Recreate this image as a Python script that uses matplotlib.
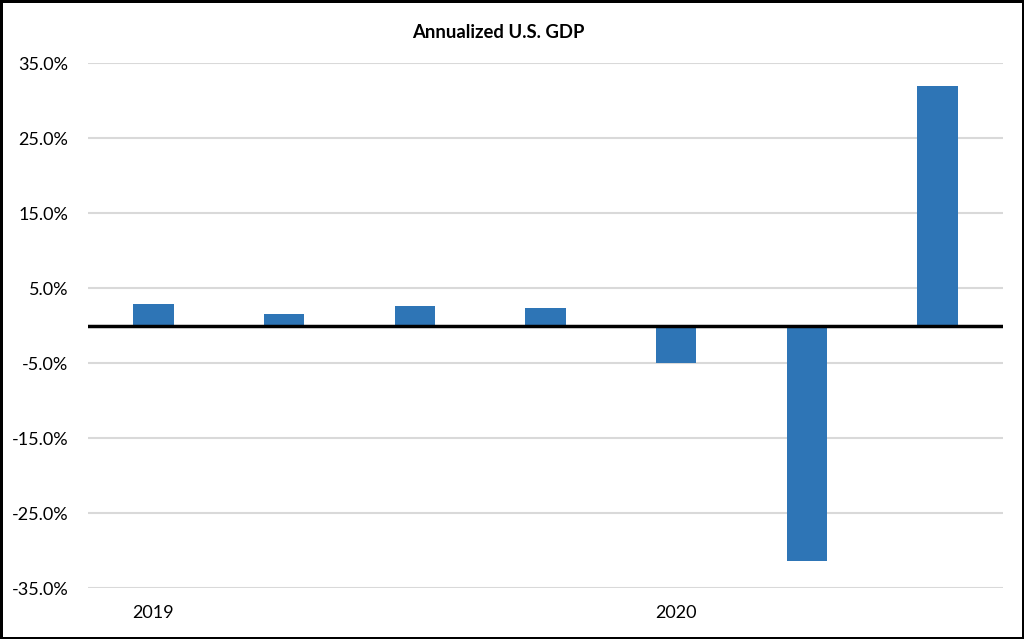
import numpy as np
import matplotlib.pyplot as plt

plt.rcParams['font.family'] = ['Lato', 'DejaVu Sans']

quarters = ['Q1 2019', 'Q2 2019', 'Q3 2019', 'Q4 2019', 'Q1 2020', 'Q2 2020', 'Q3 2020']
gdp = [2.9, 1.5, 2.6, 2.4, -5.0, -31.4, 32.0]
tick_labels = ['2019', '', '', '', '2020', '', '']
yticks = [-35, -25, -15, -5, 5, 15, 25, 35]

fig = plt.figure(figsize=(10.24, 6.39), dpi=100)
fig.patch.set_edgecolor('black')
fig.patch.set_linewidth(2.5)
ax = fig.add_axes([0.0859, 0.0798, 0.8936, 0.8216])

x = np.arange(len(quarters))
ax.bar(x, gdp, width=0.31, color='#2e75b6', zorder=2)
ax.axhline(0, color='black', linewidth=2.5, zorder=3)

ax.set_xlim(-0.5, len(quarters) - 0.5)
ax.set_ylim(-35, 35)
ax.set_yticks(yticks)
ax.set_yticklabels([f'{v:.1f}%' for v in yticks])
ax.set_xticks(x)
ax.set_xticklabels(tick_labels)
ax.grid(axis='y', color='#d9d9d9', linewidth=1.5, zorder=0)
ax.set_axisbelow(True)
for s in ax.spines.values():
    s.set_visible(False)
ax.tick_params(axis='both', length=0, labelsize=13, colors='black')
ax.tick_params(axis='y', pad=14)
ax.tick_params(axis='x', pad=12)

fig.text(0.487, 0.949, 'Annualized U.S. GDP', ha='center', va='center',
         fontsize=13.3, fontweight='bold')

fig.savefig('out.png', dpi=100)
